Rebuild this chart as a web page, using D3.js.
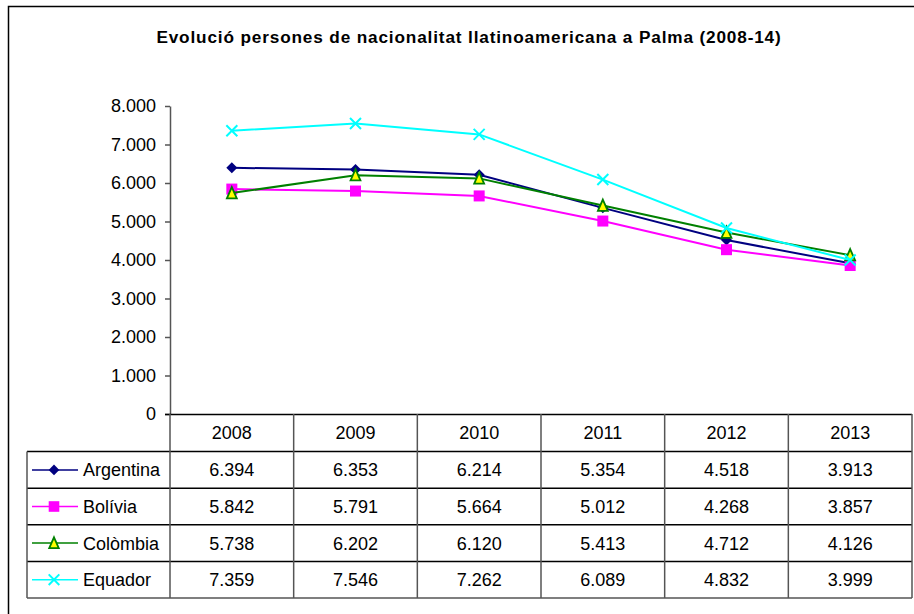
<!DOCTYPE html>
<html>
<head>
<meta charset="utf-8">
<script src="https://cdn.jsdelivr.net/npm/d3@7"></script>
<style>
  body { margin: 0; background: #fff; }
  text { font-family: "Liberation Sans", Arial, sans-serif; fill: #000; }
</style>
</head>
<body>
<svg id="chart" width="914" height="614"></svg>
<script>
// data
const years = ["2008", "2009", "2010", "2011", "2012", "2013"];
const seriesNames = ["Argentina", "Bolívia", "Colòmbia", "Equador"];
const argentina = [6394, 6353, 6214, 5354, 4518, 3913];
const bolivia = [5842, 5791, 5664, 5012, 4268, 3857];
const colombia = [5738, 6202, 6120, 5413, 4712, 4126];
const equador = [7359, 7546, 7262, 6089, 4832, 3999];
const yTicks = [0, 1000, 2000, 3000, 4000, 5000, 6000, 7000, 8000];

const seriesValues = [argentina, bolivia, colombia, equador];
const lineColors = ["#000080", "#ff00ff", "#008000", "#00ffff"];

const svg = d3.select("#chart");

// outer frame (right and bottom edges run off the picture)
svg.append("rect")
  .attr("x", 8.5).attr("y", 6.5)
  .attr("width", 920).attr("height", 620)
  .attr("fill", "none").attr("stroke", "#000").attr("stroke-width", 1.5);

svg.append("text")
  .attr("x", 469).attr("y", 42.5)
  .attr("text-anchor", "middle")
  .style("font-size", "17.2px").style("font-weight", "bold")
  .style("letter-spacing", "0.85px")
  .text("Evolució persones de nacionalitat llatinoamericana a Palma (2008-14)");

// plot area
const plotLeft = 170, plotRight = 912, plotTop = 106, plotBottom = 414, tableBottom = 598;

const x = d3.scaleBand().domain(years).range([plotLeft, plotRight]);
const y = d3.scaleLinear().domain([0, 8000]).range([plotBottom, plotTop]);

const fmt = d3.formatLocale({ decimal: ",", thousands: ".", grouping: [3], currency: ["", "€"] }).format(",");

const yAxis = svg.append("g")
  .attr("transform", `translate(${plotLeft},0)`)
  .call(d3.axisLeft(y).tickValues(yTicks).tickFormat(fmt).tickSize(5).tickSizeOuter(0).tickPadding(9));
yAxis.select(".domain").attr("stroke", "#555").attr("stroke-width", 1.5);
yAxis.selectAll(".tick line").attr("stroke", "#555").attr("stroke-width", 1.5);
yAxis.selectAll(".tick text")
  .style("font-size", "18px")
  .style("font-family", "'Liberation Sans', Arial, sans-serif")
  .attr("fill", "#000");

// markers
function drawMarker(g, i, cx, cy, r) {
  if (i === 0) {
    g.append("path")
      .attr("d", `M${cx},${cy - r}L${cx + r},${cy}L${cx},${cy + r}L${cx - r},${cy}Z`)
      .attr("fill", "#000080");
  } else if (i === 1) {
    g.append("rect")
      .attr("x", cx - r).attr("y", cy - r)
      .attr("width", 2 * r).attr("height", 2 * r)
      .attr("fill", "#ff00ff");
  } else if (i === 2) {
    g.append("path")
      .attr("d", `M${cx},${cy - r * 1.1}L${cx + r * 0.9},${cy + r * 0.95}L${cx - r * 0.9},${cy + r * 0.95}Z`)
      .attr("fill", "#ffff00").attr("stroke", "#008000").attr("stroke-width", 1.8);
  } else {
    g.append("path")
      .attr("d", `M${cx - r},${cy - r}L${cx + r},${cy + r}M${cx + r},${cy - r}L${cx - r},${cy + r}`)
      .attr("stroke", "#00ffff").attr("stroke-width", 2);
  }
}

const line = d3.line()
  .x((d, i) => x(years[i]) + x.bandwidth() / 2)
  .y(d => y(d));

seriesValues.forEach((vals, si) => {
  const g = svg.append("g");
  g.append("path")
    .datum(vals)
    .attr("d", line)
    .attr("fill", "none")
    .attr("stroke", lineColors[si])
    .attr("stroke-width", 2);
  vals.forEach((v, i) => drawMarker(g, si, x(years[i]) + x.bandwidth() / 2, y(v), 5.5));
});

// data table
const rowY = d3.scaleBand().domain(d3.range(5)).range([plotBottom + 1, tableBottom]);
const legLeft = 27;
const tbl = svg.append("g");

// horizontal lines
tbl.append("line").attr("x1", plotLeft - 5).attr("x2", plotRight).attr("y1", plotBottom + 0.5).attr("y2", plotBottom + 0.5)
  .attr("stroke", "#000").attr("stroke-width", 1.5);
d3.range(1, 5).forEach(r => {
  tbl.append("line").attr("x1", legLeft).attr("x2", plotRight)
    .attr("y1", rowY(r)).attr("y2", rowY(r))
    .attr("stroke", "#000").attr("stroke-width", 1.5);
});
tbl.append("line").attr("x1", legLeft).attr("x2", plotRight).attr("y1", tableBottom).attr("y2", tableBottom)
  .attr("stroke", "#555").attr("stroke-width", 1.5);

// vertical lines
tbl.append("line").attr("x1", legLeft).attr("x2", legLeft).attr("y1", rowY(1)).attr("y2", tableBottom)
  .attr("stroke", "#555").attr("stroke-width", 1.5);
years.forEach(yr => {
  tbl.append("line").attr("x1", x(yr)).attr("x2", x(yr)).attr("y1", plotBottom).attr("y2", tableBottom)
    .attr("stroke", "#555").attr("stroke-width", 1.5);
});
tbl.append("line").attr("x1", plotRight).attr("x2", plotRight).attr("y1", plotBottom).attr("y2", tableBottom)
  .attr("stroke", "#555").attr("stroke-width", 1.5);

// header
years.forEach(yr => {
  tbl.append("text")
    .attr("x", x(yr) + x.bandwidth() / 2)
    .attr("y", rowY(0) + rowY.bandwidth() / 2 + 5.5)
    .attr("text-anchor", "middle")
    .style("font-size", "18px")
    .text(yr);
});

// series rows
seriesValues.forEach((vals, si) => {
  const cy = rowY(si + 1) + rowY.bandwidth() / 2;
  tbl.append("line").attr("x1", 32).attr("x2", 78).attr("y1", cy).attr("y2", cy)
    .attr("stroke", lineColors[si]).attr("stroke-width", 1.5);
  drawMarker(tbl, si, 54, cy, 5.3);
  tbl.append("text")
    .attr("x", 83).attr("y", cy + 6.5)
    .style("font-size", "18px")
    .text(seriesNames[si]);
  vals.forEach((v, i) => {
    tbl.append("text")
      .attr("x", x(years[i]) + x.bandwidth() / 2)
      .attr("y", cy + 6.5)
      .attr("text-anchor", "middle")
      .style("font-size", "18px")
      .text(fmt(v));
  });
});
</script>
</body>
</html>
